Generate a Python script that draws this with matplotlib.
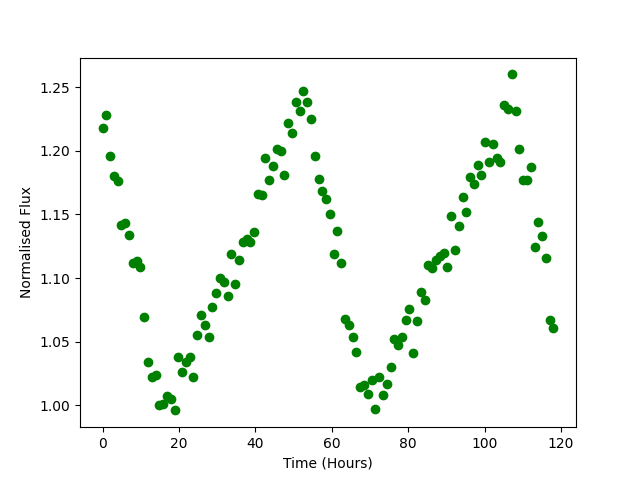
import matplotlib
matplotlib.use('Agg')
import matplotlib.pyplot as plt

time = [0.0, 0.9, 1.9, 3.0, 4.1, 4.8, 5.9, 6.9, 7.9, 9.0,
        9.9, 10.8, 11.9, 12.9, 14.0, 14.8, 15.8, 16.8, 18.0, 18.9,
        19.7, 20.9, 21.9, 23.0, 23.7, 24.7, 25.7, 26.8, 27.8, 28.6,
        29.7, 30.7, 31.8, 32.8, 33.6, 34.7, 35.7, 36.7, 37.7, 38.6,
        39.6, 40.7, 41.7, 42.5, 43.6, 44.6, 45.7, 46.7, 47.5, 48.5,
        49.6, 50.6, 51.7, 52.5, 53.5, 54.5, 55.6, 56.6, 57.4, 58.5,
        59.5, 60.6, 61.4, 62.4, 63.5, 64.5, 65.6, 66.4, 67.4, 68.4,
        69.5, 70.6, 71.3, 72.4, 73.4, 74.5, 75.5, 76.3, 77.4, 78.4,
        79.5, 80.1, 81.3, 82.3, 83.4, 84.4, 85.3, 86.3, 87.2, 88.3,
        89.3, 90.2, 91.3, 92.3, 93.3, 94.3, 95.2, 96.2, 97.3, 98.3,
        99.1, 100.2, 101.2, 102.3, 103.3, 104.1, 105.1, 106.2, 107.2, 108.3,
        109.0, 110.1, 111.1, 112.2, 113.2, 114.0, 115.1, 116.1, 117.2, 118.0]

flux = [1.218, 1.228, 1.196, 1.180, 1.176, 1.142, 1.143, 1.134, 1.112, 1.113,
        1.109, 1.069, 1.034, 1.022, 1.024, 1.000, 1.001, 1.007, 1.005, 0.996,
        1.038, 1.026, 1.034, 1.038, 1.022, 1.055, 1.071, 1.063, 1.054, 1.077,
        1.088, 1.100, 1.097, 1.086, 1.119, 1.095, 1.114, 1.128, 1.131, 1.128,
        1.136, 1.166, 1.165, 1.194, 1.177, 1.188, 1.201, 1.200, 1.181, 1.222,
        1.214, 1.238, 1.231, 1.247, 1.238, 1.225, 1.196, 1.178, 1.168, 1.162,
        1.150, 1.119, 1.137, 1.112, 1.068, 1.063, 1.054, 1.042, 1.014, 1.016,
        1.009, 1.020, 0.997, 1.022, 1.008, 1.017, 1.030, 1.052, 1.047, 1.054,
        1.067, 1.076, 1.041, 1.066, 1.089, 1.083, 1.110, 1.108, 1.114, 1.117,
        1.120, 1.109, 1.149, 1.122, 1.141, 1.164, 1.152, 1.179, 1.174, 1.189,
        1.181, 1.207, 1.191, 1.205, 1.194, 1.191, 1.236, 1.233, 1.260, 1.231,
        1.201, 1.177, 1.177, 1.187, 1.124, 1.144, 1.133, 1.116, 1.067, 1.061]

fig, ax = plt.subplots(figsize=(6.4, 4.8), dpi=100)
ax.plot(time, flux, 'o', color='green')
ax.set_xlabel('Time (Hours)')
ax.set_ylabel('Normalised Flux')

plt.savefig('out.png')
